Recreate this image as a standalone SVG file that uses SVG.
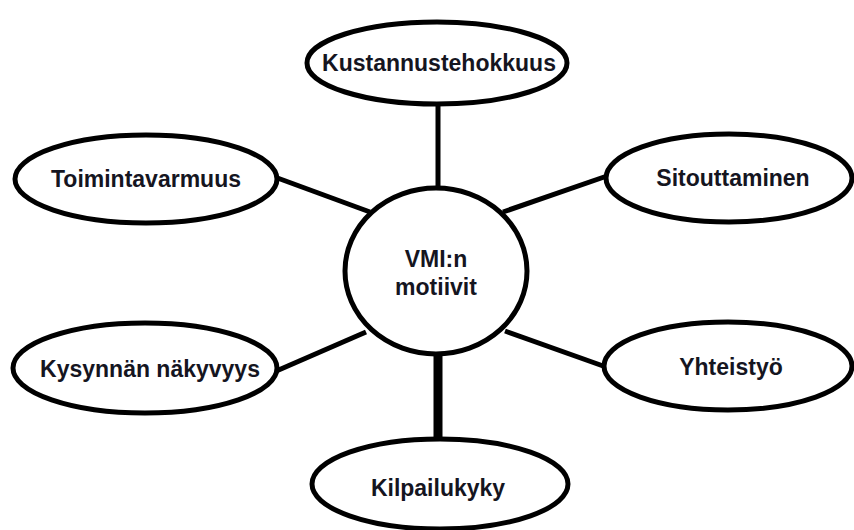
<svg xmlns="http://www.w3.org/2000/svg" width="854" height="530" viewBox="0 0 854 530">
  <style>
    .node { fill: #ffffff; stroke: #000000; stroke-width: 5; }
    .label { font-family: "Liberation Sans", Arial, sans-serif; font-weight: bold; font-size: 23px; fill: #15151f; text-anchor: middle; }
    .link { stroke: #000000; stroke-width: 5; stroke-linecap: butt; }
  </style>
  <rect width="854" height="530" fill="#ffffff"/>

  <!-- spokes from the hub to each motive -->
  <g id="connectors">
    <line class="link" x1="438" y1="104" x2="438" y2="190"/>
    <line class="link" x1="272" y1="176" x2="370" y2="212"/>
    <line class="link" x1="503" y1="212" x2="607" y2="176"/>
    <line class="link" x1="274" y1="372" x2="366" y2="332"/>
    <line class="link" x1="505" y1="331" x2="606" y2="367"/>
    <line class="link" x1="438" y1="354" x2="438" y2="440" style="stroke-width:9"/>
  </g>

  <g id="hub">
    <ellipse class="node" cx="436" cy="271" rx="91" ry="83"/>
    <text class="label" x="436" y="267">VMI:n</text>
    <text class="label" x="436" y="295">motiivit</text>
  </g>

  <g id="kustannustehokkuus">
    <ellipse class="node" cx="437" cy="63" rx="130" ry="41"/>
    <text class="label" x="439" y="71">Kustannustehokkuus</text>
  </g>

  <g id="toimintavarmuus">
    <ellipse class="node" cx="146" cy="179" rx="131" ry="44"/>
    <text class="label" x="146" y="187">Toimintavarmuus</text>
  </g>

  <g id="sitouttaminen">
    <ellipse class="node" cx="729" cy="178" rx="123" ry="44"/>
    <text class="label" x="733" y="186">Sitouttaminen</text>
  </g>

  <g id="kysynnan-nakyvyys">
    <ellipse class="node" cx="145" cy="368" rx="132" ry="45"/>
    <text class="label" x="150" y="377">Kysynnän näkyvyys</text>
  </g>

  <g id="yhteistyo">
    <ellipse class="node" cx="728" cy="366" rx="124" ry="44"/>
    <text class="label" x="731" y="375">Yhteistyö</text>
  </g>

  <g id="kilpailukyky">
    <ellipse class="node" cx="440" cy="484" rx="128" ry="45"/>
    <text class="label" x="438" y="496">Kilpailukyky</text>
  </g>
</svg>
